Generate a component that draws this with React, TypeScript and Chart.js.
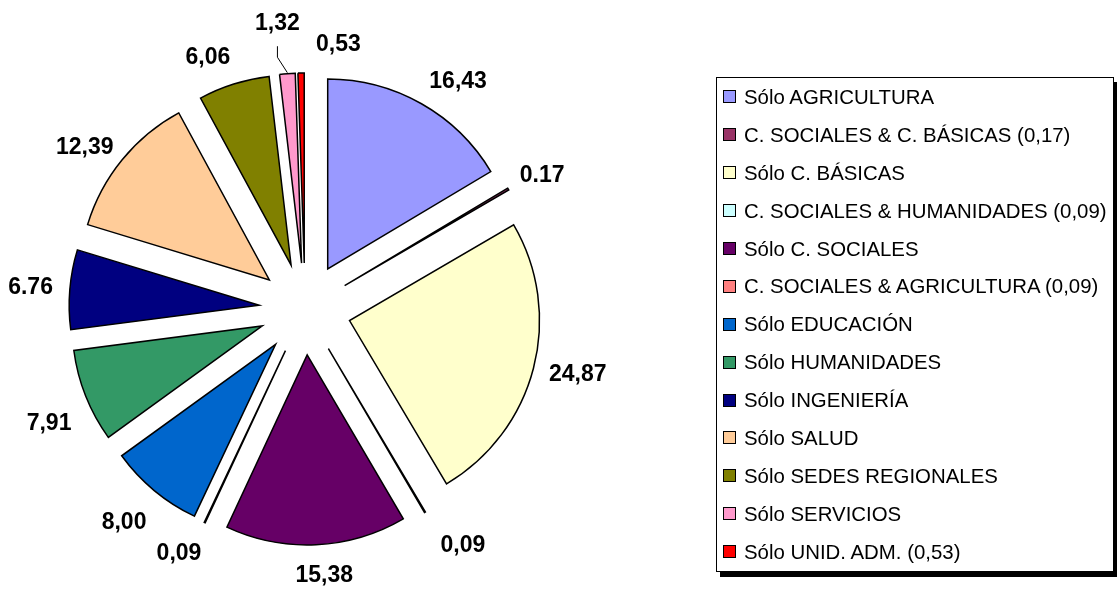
import React, { useEffect, useRef } from "react";
import { Chart, registerables } from "chart.js";

Chart.register(...registerables);

// ---- data ----
const categories = [
  "Sólo AGRICULTURA",
  "C. SOCIALES & C. BÁSICAS (0,17)",
  "Sólo C. BÁSICAS",
  "C. SOCIALES & HUMANIDADES (0,09)",
  "Sólo C. SOCIALES",
  "C. SOCIALES & AGRICULTURA (0,09)",
  "Sólo EDUCACIÓN",
  "Sólo HUMANIDADES",
  "Sólo INGENIERÍA",
  "Sólo SALUD",
  "Sólo SEDES REGIONALES",
  "Sólo SERVICIOS",
  "Sólo UNID. ADM. (0,53)",
];

const values = [16.43, 0.17, 24.87, 0.09, 15.38, 0.09, 8.0, 7.91, 6.76, 12.39, 6.06, 1.32, 0.53];

const valueLabels = [
  "16,43", "0.17", "24,87", "0,09", "15,38", "0,09", "8,00", "7,91", "6.76", "12,39", "6,06", "1,32", "0,53",
];

const colors = [
  "#9999FF", "#993366", "#FFFFCC", "#CCFFFF", "#660066", "#FF8080", "#0066CC",
  "#339966", "#000080", "#FFCC99", "#808000", "#FF99CC", "#FF0000",
];

// ---- layout / style constants ----
const W = 1117;
const H = 590;
const RADIUS = 190;
const EXPLODE = 46;
const LABEL_GAP = 17;
const LABEL_FONT = 23;
const LABEL_CAP_H = 17;
const FONT_FAMILY = '"Liberation Sans", Arial, Helvetica, sans-serif';
// manual nudges of individual data labels (text only), [dx, dy]
const LABEL_NUDGE: Record<number, [number, number]> = {
  0: [14, 0],
  3: [18, 11],
  4: [6, 5],
  5: [-9, 8],
  6: [-5, 12],
  7: [0, 18],
  9: [-2, 4],
  10: [-14, -2],
  11: [-7, -25],
  12: [38, -3],
};
const LEADER_LABELS = [11];

const explodePlugin = {
  id: "explodeSlices",
  afterDatasetUpdate(chart: any, args: any) {
    const meta = args.meta;
    meta.data.forEach((arc: any) => {
      const mid = (arc.startAngle + arc.endAngle) / 2;
      arc.x += Math.cos(mid) * EXPLODE;
      arc.y += Math.sin(mid) * EXPLODE;
    });
  },
};

const labelPlugin = {
  id: "outsideLabels",
  afterDatasetsDraw(chart: any) {
    const ctx = chart.ctx as CanvasRenderingContext2D;
    const meta = chart.getDatasetMeta(0);
    ctx.save();
    ctx.font = `bold ${LABEL_FONT}px ${FONT_FAMILY}`;
    ctx.textAlign = "center";
    ctx.textBaseline = "middle";
    ctx.fillStyle = "#000";
    meta.data.forEach((arc: any, i: number) => {
      const mid = (arc.startAngle + arc.endAngle) / 2;
      const dx = Math.cos(mid);
      const dy = Math.sin(mid);
      const text = valueLabels[i];
      const w = ctx.measureText(text).width;
      const r = arc.outerRadius + LABEL_GAP;
      let x = arc.x + dx * r + (dx * w) / 2;
      let y = arc.y + dy * r + (dy * LABEL_CAP_H) / 2;
      const n = LABEL_NUDGE[i];
      if (n) {
        x += n[0];
        y += n[1];
      }
      ctx.fillText(text, x, y);
      if (LEADER_LABELS.includes(i)) {
        const tipX = arc.x + dx * arc.outerRadius;
        const tipY = arc.y + dy * arc.outerRadius;
        ctx.beginPath();
        ctx.strokeStyle = "#000";
        ctx.lineWidth = 1;
        ctx.moveTo(x, y + 23);
        ctx.lineTo(x, y + 34);
        ctx.lineTo(tipX, tipY - 1);
        ctx.stroke();
      }
    });
    ctx.restore();
  },
};

function PieChart() {
  const ref = useRef<HTMLCanvasElement | null>(null);
  useEffect(() => {
    if (!ref.current) return;
    const chart = new Chart(ref.current, {
      type: "pie",
      data: {
        labels: categories,
        datasets: [
          {
            data: values,
            backgroundColor: colors,
            borderColor: "#000",
            borderWidth: 1.5,
            borderJoinStyle: "miter",
            radius: RADIUS,
            clip: false,
          } as any,
        ],
      },
      options: {
        responsive: false,
        animation: false,
        events: [],
        layout: { padding: { left: 0, right: W - 610, top: 28, bottom: 0 } },
        plugins: {
          legend: { display: false },
          tooltip: { enabled: false },
        },
      },
      plugins: [explodePlugin, labelPlugin],
    });
    return () => chart.destroy();
  }, []);
  return <canvas ref={ref} width={W} height={H} style={{ position: "absolute", left: 0, top: 0 }} />;
}

function Legend() {
  return (
    <div
      style={{
        position: "absolute",
        left: 716,
        top: 77,
        width: 396,
        height: 493,
        border: "1px solid #000",
        boxShadow: "4px 5px 0 #000",
        background: "#fff",
        fontFamily: FONT_FAMILY,
        fontSize: 20.4,
        color: "#000",
      }}
    >
      {categories.map((c, i) => (
        <div key={i} style={{ height: 37.9, display: "flex", alignItems: "center" }}>
          <span
            style={{
              width: 11,
              height: 11,
              border: "1px solid #000",
              background: colors[i],
              marginLeft: 6,
              flex: "none",
              display: "inline-block",
            }}
          />
          <span style={{ marginLeft: 8, whiteSpace: "nowrap", lineHeight: "20px" }}>{c}</span>
        </div>
      ))}
    </div>
  );
}

export default function App() {
  return (
    <div style={{ position: "absolute", left: 0, top: 0, width: W, height: H, background: "#fff", overflow: "hidden" }}>
      <PieChart />
      <Legend />
    </div>
  );
}
